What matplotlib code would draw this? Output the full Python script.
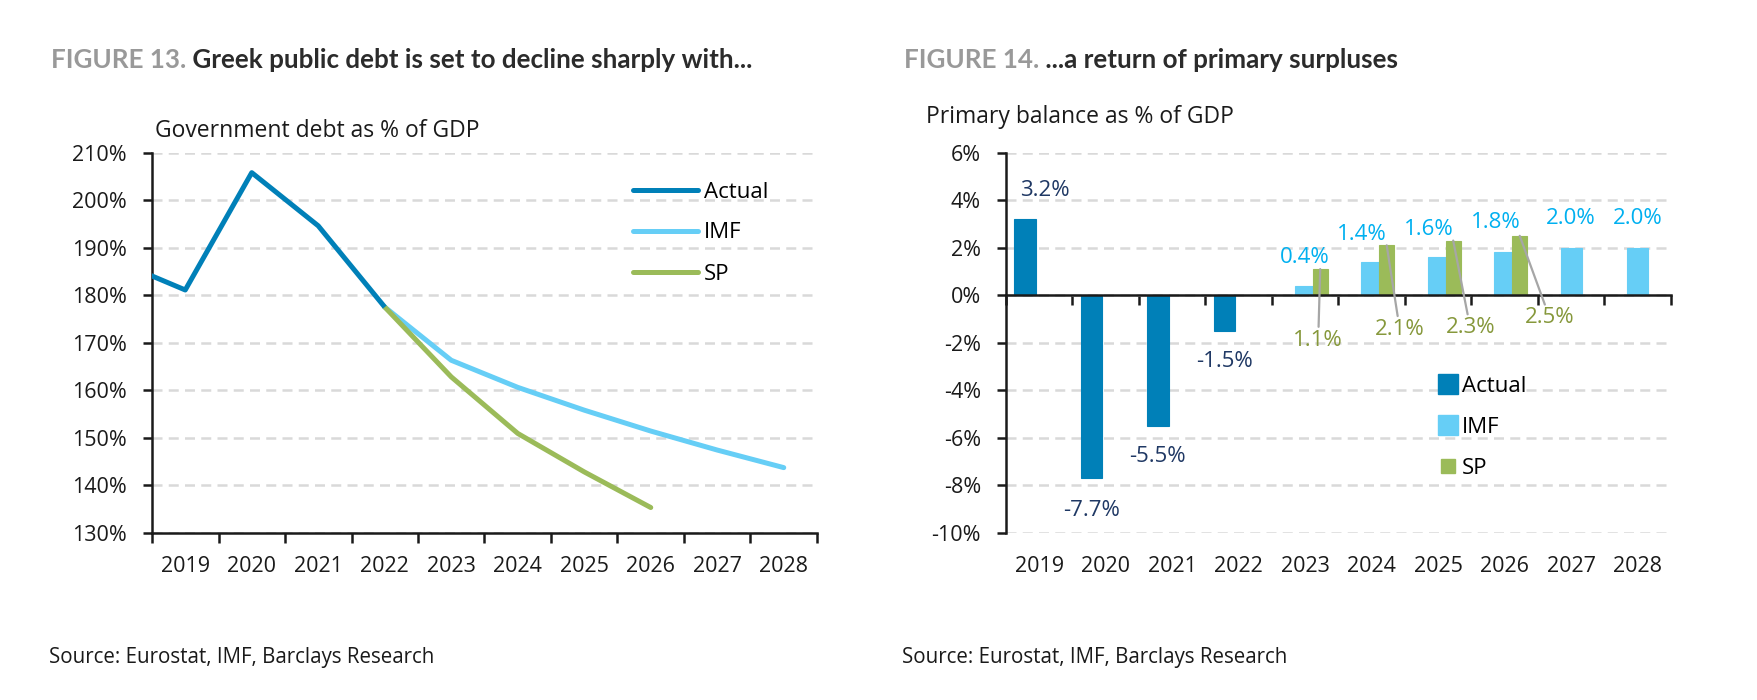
import numpy as np
import matplotlib.pyplot as plt
from matplotlib.lines import Line2D
from matplotlib.transforms import blended_transform_factory

plt.rcParams['font.family'] = ['Open Sans', 'DejaVu Sans']

# <codecell>
'''DATA'''
years = list(range(2019, 2029))
year_labels = [str(y) for y in years]

# Figure 13: government debt, % of GDP
debt_actual_years = [2018, 2019, 2020, 2021, 2022]
debt_actual = [187.0, 181.1, 205.8, 194.6, 177.5]
debt_imf_years = [2022, 2023, 2024, 2025, 2026, 2027, 2028]
debt_imf = [177.5, 166.3, 160.6, 155.8, 151.4, 147.4, 143.7]
debt_sp_years = [2022, 2023, 2024, 2025, 2026]
debt_sp = [177.5, 162.8, 150.9, 142.8, 135.3]

# Figure 14: primary balance, % of GDP
pb_actual_years = [2019, 2020, 2021, 2022]
pb_actual = [3.2, -7.7, -5.5, -1.5]
pb_imf_years = [2023, 2024, 2025, 2026, 2027, 2028]
pb_imf = [0.4, 1.4, 1.6, 1.8, 2.0, 2.0]
pb_sp_years = [2023, 2024, 2025, 2026]
pb_sp = [1.1, 2.1, 2.3, 2.5]

# <codecell>
'''STYLE'''
c_actual = '#0080B8'
c_imf = '#66CEF6'
c_sp = '#9BBB59'
c_actual_txt = '#1F3864'
c_imf_txt = '#00B0F0'
c_sp_txt = '#86983B'
c_axis = '#1a1a1a'
c_grid = '#d9d9d9'

# label offsets in pixels (x, y) from the bar end
off_actual = [(20, 29), (0, -32), (0, -31), (0, -31)]
off_imf = [(0, 28), (-10, 27), (-9, 28), (-9, 30), (0, 29), (0, 29)]
off_sp = [(-2, -71), (13, -84), (17, -87), (30, -82)]

W, H = 1758, 700
fig = plt.figure(figsize=(W / 100, H / 100), dpi=100)
ax1 = fig.add_axes([152 / W, 1 - 532.7 / H, 665 / W, 380 / H])
ax2 = fig.add_axes([1006 / W, 1 - 532.7 / H, 665 / W, 380 / H])


def style_axes(ax):
    ax.set_xlim(-0.5, 9.5)
    ax.set_xticks(np.arange(-0.5, 10, 1))
    ax.set_xticklabels([])
    ax.tick_params(axis='x', length=7, width=1.8, color=c_axis)
    ax.tick_params(axis='y', length=6.5, width=1.8, color=c_axis,
                   pad=11.5, labelsize=15.5, labelcolor=c_axis)
    ax.spines[['top', 'right']].set_visible(False)
    for s in ['left', 'bottom']:
        ax.spines[s].set_linewidth(1.8)
        ax.spines[s].set_color(c_axis)
    ax.grid(axis='y', color=c_grid, linestyle=(0, (4, 2.5)), linewidth=1.8)
    ax.set_axisbelow(True)
    trans = blended_transform_factory(ax.transData, ax.transAxes)
    for i, lab in enumerate(year_labels):
        ax.text(i, -0.09, lab, transform=trans, ha='center', va='center',
                fontsize=15.5, color=c_axis)


# <codecell>
'''FIGURE 13 - LINES'''
style_axes(ax1)
ax1.set_ylim(130, 210)
ax1.set_yticks(range(130, 211, 10))
ax1.set_yticklabels([f'{v}%' for v in range(130, 211, 10)])
ax1.plot([y - 2019 for y in debt_imf_years], debt_imf, color=c_imf,
         lw=3.6, solid_capstyle='round', label='IMF', zorder=3)
ax1.plot([y - 2019 for y in debt_sp_years], debt_sp, color=c_sp,
         lw=3.6, solid_capstyle='round', label='SP', zorder=4)
ax1.plot([y - 2019 for y in debt_actual_years], debt_actual, color=c_actual,
         lw=3.6, solid_capstyle='butt', label='Actual', zorder=5)

handles = [Line2D([], [], color=c, lw=3.6, solid_capstyle='round')
           for c in (c_actual, c_imf, c_sp)]
ax1.legend(handles, ['Actual', 'IMF', 'SP'], loc='upper left',
           bbox_to_anchor=(633 / W, 1 - 181.5 / H), bbox_transform=fig.transFigure,
           frameon=False, fontsize=16, handlelength=2.93, handletextpad=0.25,
           labelspacing=0.9, borderpad=0, borderaxespad=0)

# <codecell>
'''FIGURE 14 - BARS'''
style_axes(ax2)
ax2.set_ylim(-10, 6)
ax2.set_yticks(range(-10, 7, 2))
ax2.set_yticklabels([f'{v}%' for v in range(-10, 7, 2)])
ax2.spines['bottom'].set_position(('data', 0))
ax2.spines['bottom'].set_zorder(6)

x_act = np.array(pb_actual_years) - 2019 - 0.217
x_imf = np.array(pb_imf_years) - 2019
x_sp = np.array(pb_sp_years) - 2019 + 0.225
ax2.bar(x_act, pb_actual, width=0.325, color=c_actual, edgecolor=c_actual,
        lw=0.8, zorder=3)
ax2.bar(x_imf, pb_imf, width=0.32, color=c_imf, edgecolor=c_imf,
        lw=0.8, zorder=3)
ax2.bar(x_sp, pb_sp, width=0.22, color=c_sp, edgecolor=c_sp,
        lw=0.8, zorder=4)

for x, v, off in zip(x_act, pb_actual, off_actual):
    ax2.annotate(f'{v:.1f}%', (x, v), xytext=off, textcoords='offset pixels',
                 ha='center', va='center', fontsize=16, color=c_actual_txt)
for x, v, off in zip(x_imf, pb_imf, off_imf):
    ax2.annotate(f'{v:.1f}%', (x, v), xytext=off, textcoords='offset pixels',
                 ha='center', va='center', fontsize=16, color=c_imf_txt)
for x, v, off in zip(x_sp, pb_sp, off_sp):
    ax2.annotate(f'{v:.1f}%', (x, v), xytext=off, textcoords='offset pixels',
                 ha='center', va='center', fontsize=16, color=c_sp_txt,
                 arrowprops=dict(arrowstyle='-', color='#a6a6a6', lw=1.6,
                                 shrinkA=0, shrinkB=0), zorder=7)

handles = [Line2D([], [], color=c_actual, marker='s', ls='', markersize=14.4),
           Line2D([], [], color=c_imf, marker='s', ls='', markersize=14.4),
           Line2D([], [], color=c_sp, marker='s', ls='', markersize=10)]
ax2.legend(handles, ['Actual', 'IMF', 'SP'], loc='upper left',
           bbox_to_anchor=(1436.7 / W, 1 - 375.5 / H), bbox_transform=fig.transFigure,
           frameon=False, fontsize=16, handlelength=1.0, handletextpad=0.15,
           labelspacing=0.9, borderpad=0, borderaxespad=0)

# <codecell>
'''TITLES AND SOURCES'''
title_font = dict(fontsize=18.7, fontweight='bold', family=['Lato', 'DejaVu Sans'])
for x0, num, rest, sub, y_sub in [
        (51, 'FIGURE 13.', ' Greek public debt is set to decline sharply with...',
         'Government debt as % of GDP', 136.7),
        (904, 'FIGURE 14.', ' ...a return of primary surpluses',
         'Primary balance as % of GDP', 123)]:
    t = fig.text(x0 / W, 1 - 68 / H, num, color='#999999', va='baseline',
                 **title_font)
    fig.add_artist(plt.Annotation(rest, xy=(1, 0), xycoords=t, va='bottom',
                                  ha='left', color='#2b2b2b', **title_font))
    x_sub = 155 if x0 < 500 else 926
    fig.text(x_sub / W, 1 - y_sub / H, sub,
             fontsize=16.5, color=c_axis, va='baseline')
    fig.text((x0 - 2) / W, 1 - 657 / H, 'Source: Eurostat, IMF, Barclays Research',
             fontsize=14.8, color=c_axis, va='center')

fig.savefig('out.png', dpi=100, facecolor='white')
